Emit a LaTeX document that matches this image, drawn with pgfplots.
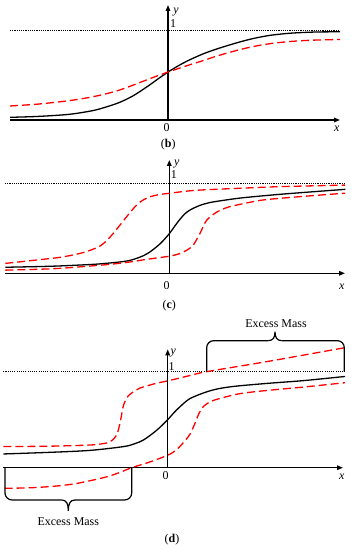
\documentclass[border=0pt]{standalone}
\usepackage{fontspec}
\setmainfont{Liberation Serif}
\usepackage{pgfplots}
\pgfplotsset{compat=1.18}
\usetikzlibrary{arrows.meta}
\definecolor{myred}{RGB}{255,0,0}
\pgfplotsset{panel/.style={
  scale only axis, axis lines*=middle,
  axis line style={line width=1.4bp, -{Triangle[length=6bp,width=4.5bp]}},
  xtick=\empty, ytick=\empty, clip=false, ymin=0,
  every axis plot/.append style={line width=1.3bp},
},
blk/.style={black, smooth, no markers},
rd/.style={myred, smooth, no markers, dash pattern=on 8bp off 4bp},
dot/.style={black, no markers, line width=1.3bp, dash pattern=on 1.1bp off 1.1bp},
}
\tikzset{lab/.style={font=\fontsize{12}{14}\selectfont, inner sep=0pt},
  br/.style={line width=1.2bp, black}}
\begin{document}
\begin{tikzpicture}
% ---------------- (b)
\begin{axis}[panel, at={(10bp,430bp)}, anchor=south west,
  width=330bp, height=115bp, xmin=-15.8, xmax=17.2, ymax=1.288]
\addplot[dot] coordinates {(-15.8,1) (17.2,1)};
\addplot[blk] coordinates {(-15.8,0.03) (-13,0.04) (-10,0.062) (-8,0.095) (-6.8,0.125) (-5,0.19) (-3.5,0.27) (-2,0.38) (-1,0.46) (0,0.537) (1,0.605) (2,0.665) (3.5,0.74) (5,0.80) (6.9,0.865) (8.5,0.912) (10.2,0.948) (12,0.97) (13.5,0.98) (15,0.986) (17.2,0.988)};
\addplot[rd] coordinates {(-15.8,0.157) (-13,0.178) (-10,0.215) (-8,0.25) (-6.5,0.285) (-5,0.33) (-3.5,0.39) (-2,0.455) (-1,0.497) (0,0.537) (1,0.575) (2,0.612) (3.5,0.665) (5,0.72) (6.9,0.78) (8.5,0.822) (10.2,0.855) (12,0.877) (13.5,0.889) (15,0.896) (17.2,0.902)};
\node[lab] at (axis cs:0.8,1.213) {\textit{y}};
\node[lab] at (axis cs:0.5,1.083) {1};
\node[lab] at (axis cs:-0.13,-0.086) {0};
\node[lab] at (axis cs:16.87,-0.093) {\textit{x}};
\node[lab] at (axis cs:0.03,-0.28) {(\textbf{b})};
\end{axis}
% ---------------- (c)
\begin{axis}[panel, at={(5bp,276.7bp)}, anchor=south west,
  width=340bp, height=113.3bp, xmin=-16.43, xmax=17.57, ymax=1.259]
\addplot[dot] coordinates {(-16.43,1) (17.57,1)};
\addplot[blk] coordinates {(-16.4,0.067) (-13,0.075) (-10.9,0.082) (-8,0.097) (-6.9,0.105) (-5,0.125) (-4,0.142) (-3.3,0.165) (-2.6,0.195) (-1.9,0.24) (-0.9,0.33) (0,0.44) (0.55,0.525) (1.1,0.605) (1.6,0.665) (2.1,0.705) (3,0.752) (4,0.785) (5.5,0.812) (7.4,0.84) (11,0.877) (14,0.903) (17.6,0.933)};
\addplot[rd] coordinates {(-16.4,0.11) (-13.9,0.14) (-10.9,0.178) (-8.9,0.222) (-7.8,0.26) (-6.9,0.305) (-6.2,0.37) (-5.6,0.444) (-4.9,0.54) (-4.26,0.63) (-3.26,0.76) (-2.6,0.815) (-1.93,0.85) (-1,0.875) (0.07,0.89) (1.5,0.91) (3.07,0.925) (7.07,0.945) (11.07,0.963) (17.57,0.98)};
\addplot[rd] coordinates {(-16.4,0.035) (-13,0.045) (-10.9,0.055) (-8,0.08) (-5.9,0.1) (-4,0.125) (-2.26,0.155) (0,0.19) (1.07,0.22) (1.8,0.26) (2.4,0.314) (3.07,0.444) (3.74,0.59) (4.74,0.68) (5.5,0.72) (6.4,0.75) (9.07,0.81) (11.07,0.833) (14,0.86) (17.57,0.89)};
\node[lab] at (axis cs:0.75,1.214) {\textit{y}};
\node[lab] at (axis cs:0.45,1.092) {1};
\node[lab] at (axis cs:-0.26,-0.141) {0};
\node[lab] at (axis cs:17.24,-0.149) {\textit{x}};
\node[lab] at (axis cs:0,-0.36) {(\textbf{c})};
\end{axis}
% ---------------- (d)
\begin{axis}[panel, at={(3.3bp,82.3bp)}, anchor=south west,
  width=339.7bp, height=118.4bp, xmin=-16.44, xmax=17.53, ymax=1.233]
\addplot[dot] coordinates {(-16.44,1) (17.73,1)};
\addplot[blk] coordinates {(-16.44,0.143) (-11.8,0.16) (-7.8,0.18) (-4.4,0.22) (-3.3,0.25) (-2.4,0.29) (-1.1,0.39) (0,0.50) (0.6,0.57) (1.23,0.635) (2.23,0.72) (3.9,0.79) (5.2,0.825) (6.9,0.85) (10.2,0.88) (13.6,0.907) (17.73,0.95)};
\addplot[rd] coordinates {(-16.44,0.22) (-11.8,0.224) (-7.8,0.236) (-6.5,0.25) (-5.77,0.27) (-5.1,0.34) (-4.7,0.5) (-4.45,0.64) (-4.0,0.74) (-3.3,0.8) (-2.77,0.83) (-1.1,0.88) (0,0.904) (2.23,0.96) (3.9,1.0) (10.2,1.11) (17.73,1.25)};
\addplot[rd] coordinates {(-16.3,-0.215) (-14,-0.21) (-11.8,-0.197) (-10,-0.178) (-8.4,-0.15) (-6.1,-0.095) (-4.8,-0.05) (-3.6,0) (-1.77,0.06) (0,0.13) (0.8,0.18) (1.56,0.26) (2.23,0.35) (2.8,0.48) (3.1,0.56) (3.6,0.64) (4.3,0.69) (5.2,0.72) (6.9,0.765) (8.6,0.79) (11,0.815) (13.6,0.84) (17.73,0.885)};
% braces
\draw[br, rounded corners=7bp] (axis cs:-16.27,0) -- (axis cs:-16.27,-0.336) -- (axis cs:-10.61,-0.336);
\draw[br] (axis cs:-10.61,-0.336) .. controls (axis cs:-10.1,-0.336) and (axis cs:-9.94,-0.38) .. (axis cs:-9.94,-0.448) .. controls (axis cs:-9.94,-0.38) and (axis cs:-9.78,-0.336) .. (axis cs:-9.27,-0.336);
\draw[br, rounded corners=7bp] (axis cs:-9.27,-0.336) -- (axis cs:-3.6,-0.336) -- (axis cs:-3.6,0);
\draw[br, rounded corners=7bp] (axis cs:3.9,1) -- (axis cs:3.9,1.323) -- (axis cs:10.06,1.323);
\draw[br] (axis cs:10.06,1.323) .. controls (axis cs:10.57,1.323) and (axis cs:10.73,1.36) .. (axis cs:10.73,1.417) .. controls (axis cs:10.73,1.36) and (axis cs:10.89,1.323) .. (axis cs:11.4,1.323);
\draw[br, rounded corners=7bp] (axis cs:11.4,1.323) -- (axis cs:17.66,1.323) -- (axis cs:17.66,1);
\node[lab] at (axis cs:-9.94,-0.5625) {Excess Mass};
\node[lab] at (axis cs:10.83,1.504) {Excess Mass};
\node[lab] at (axis cs:0.56,1.19) {\textit{y}};
\node[lab] at (axis cs:0.4,1.052) {1};
\node[lab] at (axis cs:-0.2,-0.086) {0};
\node[lab] at (axis cs:17.4,-0.094) {\textit{x}};
\node[lab] at (axis cs:0.43,-0.753) {(\textbf{d})};
\end{axis}
\pgfresetboundingbox
\useasboundingbox (0,0) rectangle (351bp,550bp);
\end{tikzpicture}
\end{document}
